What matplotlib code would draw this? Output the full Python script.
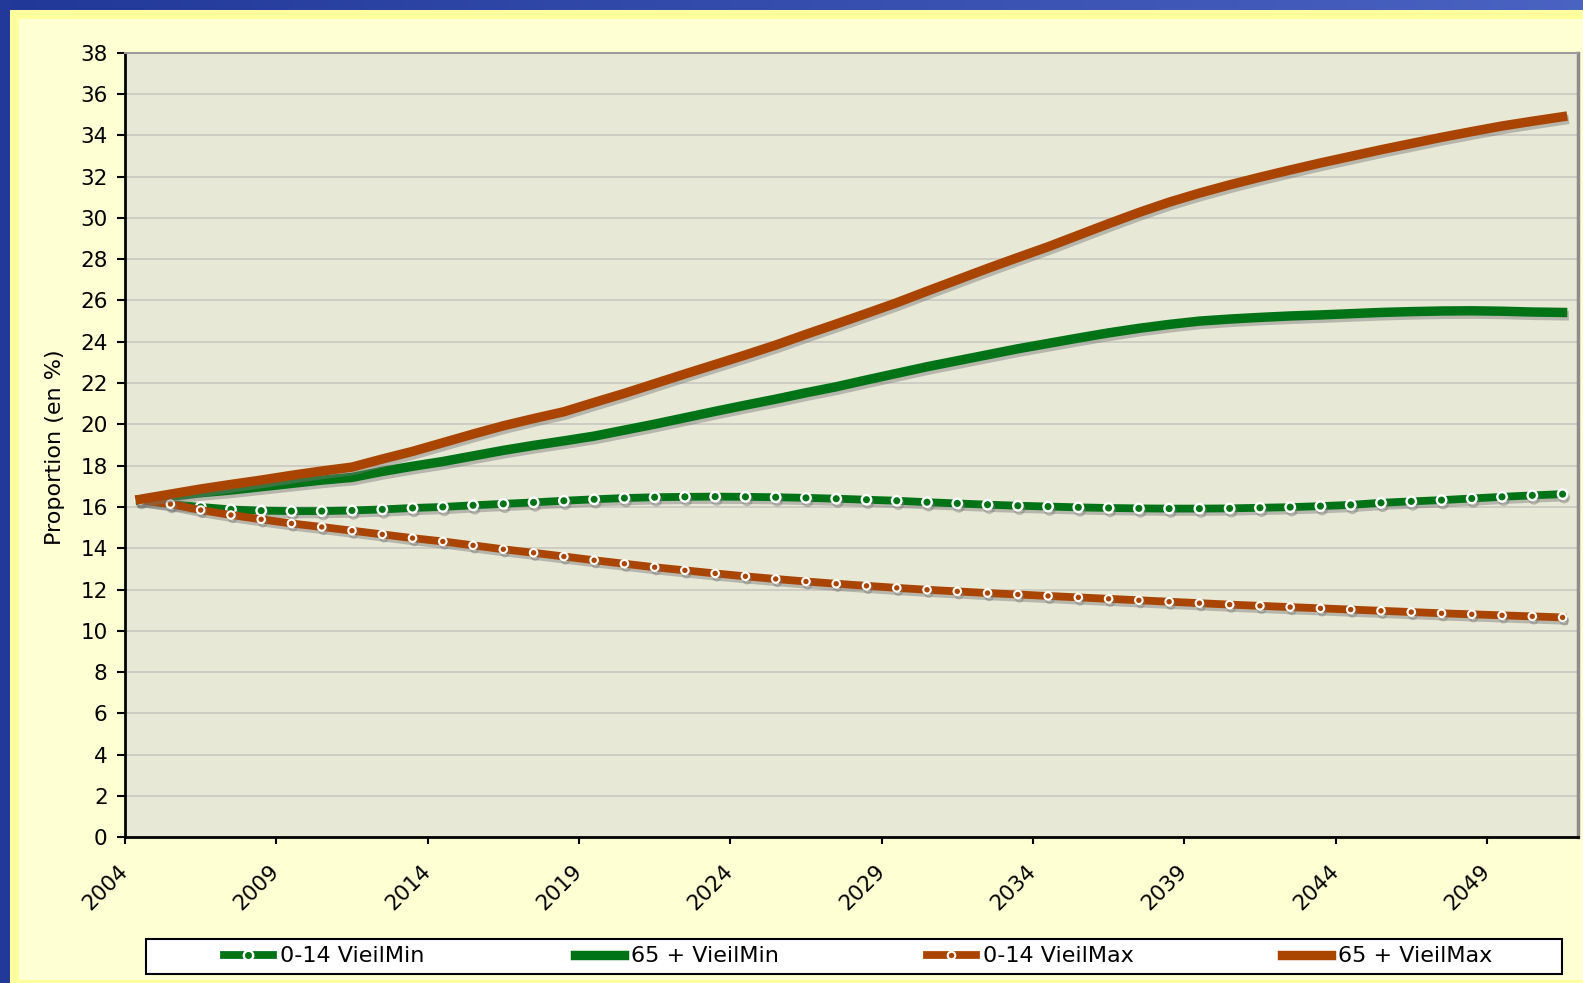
import numpy as np
import matplotlib
matplotlib.use("Agg")
import matplotlib.pyplot as plt
import matplotlib.patheffects as pe
from matplotlib.lines import Line2D
from matplotlib.patches import Rectangle

# Years on the category axis
years = list(range(2004, 2052))

# Proportion (en %) per scenario
vieilmin_0_14 = [16.33, 16.14, 16.00, 15.88, 15.82, 15.80, 15.80, 15.83, 15.88, 15.95,
                 16.00, 16.08, 16.15, 16.22, 16.30, 16.37, 16.43, 16.47, 16.49, 16.50,
                 16.49, 16.47, 16.44, 16.40, 16.35, 16.30, 16.23, 16.17, 16.11, 16.06,
                 16.02, 15.98, 15.95, 15.93, 15.92, 15.92, 15.93, 15.96, 15.99, 16.04,
                 16.10, 16.20, 16.27, 16.33, 16.41, 16.49, 16.56, 16.62]
vieilmin_65 = [16.35, 16.52, 16.69, 16.82, 16.98, 17.14, 17.30, 17.43, 17.72, 17.97,
               18.20, 18.47, 18.74, 18.98, 19.20, 19.43, 19.72, 20.01, 20.32, 20.63,
               20.93, 21.22, 21.53, 21.82, 22.15, 22.47, 22.79, 23.08, 23.37, 23.66,
               23.92, 24.18, 24.43, 24.65, 24.84, 25.00, 25.10, 25.18, 25.25, 25.30,
               25.36, 25.42, 25.46, 25.49, 25.50, 25.48, 25.44, 25.42]
vieilmax_0_14 = [16.33, 16.14, 15.85, 15.61, 15.40, 15.20, 15.03, 14.85, 14.67, 14.49,
                 14.33, 14.14, 13.95, 13.78, 13.60, 13.42, 13.25, 13.08, 12.93, 12.78,
                 12.64, 12.51, 12.39, 12.28, 12.18, 12.08, 11.99, 11.91, 11.83, 11.76,
                 11.69, 11.62, 11.55, 11.48, 11.41, 11.34, 11.27, 11.21, 11.15, 11.09,
                 11.03, 10.97, 10.91, 10.85, 10.80, 10.75, 10.70, 10.65]
vieilmax_65 = [16.37, 16.62, 16.87, 17.09, 17.30, 17.53, 17.74, 17.93, 18.32, 18.69,
               19.11, 19.53, 19.93, 20.28, 20.61, 21.06, 21.50, 21.97, 22.44, 22.90,
               23.36, 23.84, 24.36, 24.86, 25.37, 25.89, 26.45, 27.00, 27.55, 28.08,
               28.60, 29.16, 29.72, 30.26, 30.76, 31.20, 31.60, 31.97, 32.32, 32.66,
               32.98, 33.30, 33.60, 33.90, 34.18, 34.45, 34.68, 34.90]

labels = ['0-14 VieilMin', '65 + VieilMin', '0-14 VieilMax', '65 + VieilMax']

GREEN = '#007316'
BROWN = '#A94500'

W, H = 1583, 983
fig = plt.figure(figsize=(W / 100, H / 100), dpi=100)
fig.patch.set_facecolor('#FFFFD4')

# blue frame (top gradient + left band) and yellow rim
top = fig.add_axes([0, 1 - 10 / H, 1, 10 / H])
c1 = np.array([0.13, 0.22, 0.60])
c2 = np.array([0.29, 0.39, 0.76])
t = np.linspace(0, 1, 256)[None, :, None]
top.imshow(c1 + (c2 - c1) * t, aspect='auto', extent=(0, 1, 0, 1))
top.axis('off')
fig.patches.append(Rectangle((0, 0), 10 / W, 1, transform=fig.transFigure,
                             facecolor='#22399A', edgecolor='none'))
for xy, w, h in [((10 / W, 0), 9 / W, 1 - 10 / H),
                 ((10 / W, 1 - 19 / H), 1, 9 / H),
                 ((10 / W, 0), 1, 3 / H)]:
    fig.patches.append(Rectangle(xy, w, h, transform=fig.transFigure,
                                 facecolor='#FFFF9E', edgecolor='none'))

# plot area
ax = fig.add_axes([125 / W, 1 - 837.3 / H, 1452.7 / W, 784.6 / H])
ax.set_facecolor('#E8E8D6')
ax.yaxis.grid(True, color='#C8C8C0', lw=1.2)
ax.set_axisbelow(True)

x = np.arange(len(years)) + 0.5
shadow = [pe.SimpleLineShadow(offset=(1.2, -2.4), shadow_color='#7A7A7A', alpha=0.45),
          pe.Normal()]

styles = [
    dict(color=GREEN, lw=5.6, marker='o', ms=6.8, mfc=GREEN, mec='white', mew=1.7),
    dict(color=GREEN, lw=6.8),
    dict(color=BROWN, lw=5.6, marker='o', ms=5.4, mfc=BROWN, mec='white', mew=1.5),
    dict(color=BROWN, lw=6.8),
]
series = [vieilmin_0_14, vieilmin_65, vieilmax_0_14, vieilmax_65]
for vals, st in zip(series, styles):
    ax.plot(x, vals, solid_joinstyle='round', path_effects=shadow, **st)

ax.set_xlim(0, len(years))
ax.set_ylim(0, 38)
ax.set_yticks(range(0, 39, 2))
xt = list(range(0, len(years), 5))
ax.set_xticks(xt)
ax.set_xticklabels([str(years[k]) for k in xt], rotation=45, ha='right', va='center',
                   rotation_mode='anchor')
ax.tick_params(axis='y', labelsize=15.5, length=5.5, width=1.5, direction='out', pad=7)
ax.tick_params(axis='x', labelsize=15.5, length=5, width=1.5, direction='out', pad=17)

for side in ['left', 'bottom']:
    ax.spines[side].set_color('black')
    ax.spines[side].set_linewidth(2)
ax.spines['top'].set_color('#9A9A9A')
ax.spines['top'].set_linewidth(1.5)
ax.spines['right'].set_color('#8C8C8C')
ax.spines['right'].set_linewidth(2.5)

fig.text(55 / W, 1 - 447 / H, 'Proportion (en %)', rotation=90, ha='center', va='center',
         fontsize=16)

# legend box with four evenly spaced entries
fig.patches.append(Rectangle((146 / W, 1 - 974 / H), (1562 - 146) / W, 35 / H,
                             transform=fig.transFigure, facecolor='white',
                             edgecolor='black', lw=1.5))
entry_x = [224, 575, 927, 1282]
for lab, st, ex in zip(labels, styles, entry_x):
    h = Line2D([], [], **st)
    fig.legend(handles=[h], labels=[lab], loc='center left',
               bbox_to_anchor=(ex / W, 1 - 956.5 / H), frameon=False, fontsize=16,
               handlelength=2.2, handletextpad=0.3, borderpad=0, borderaxespad=0,
               numpoints=1)

fig.savefig('out.png', dpi=100, facecolor=fig.get_facecolor())
